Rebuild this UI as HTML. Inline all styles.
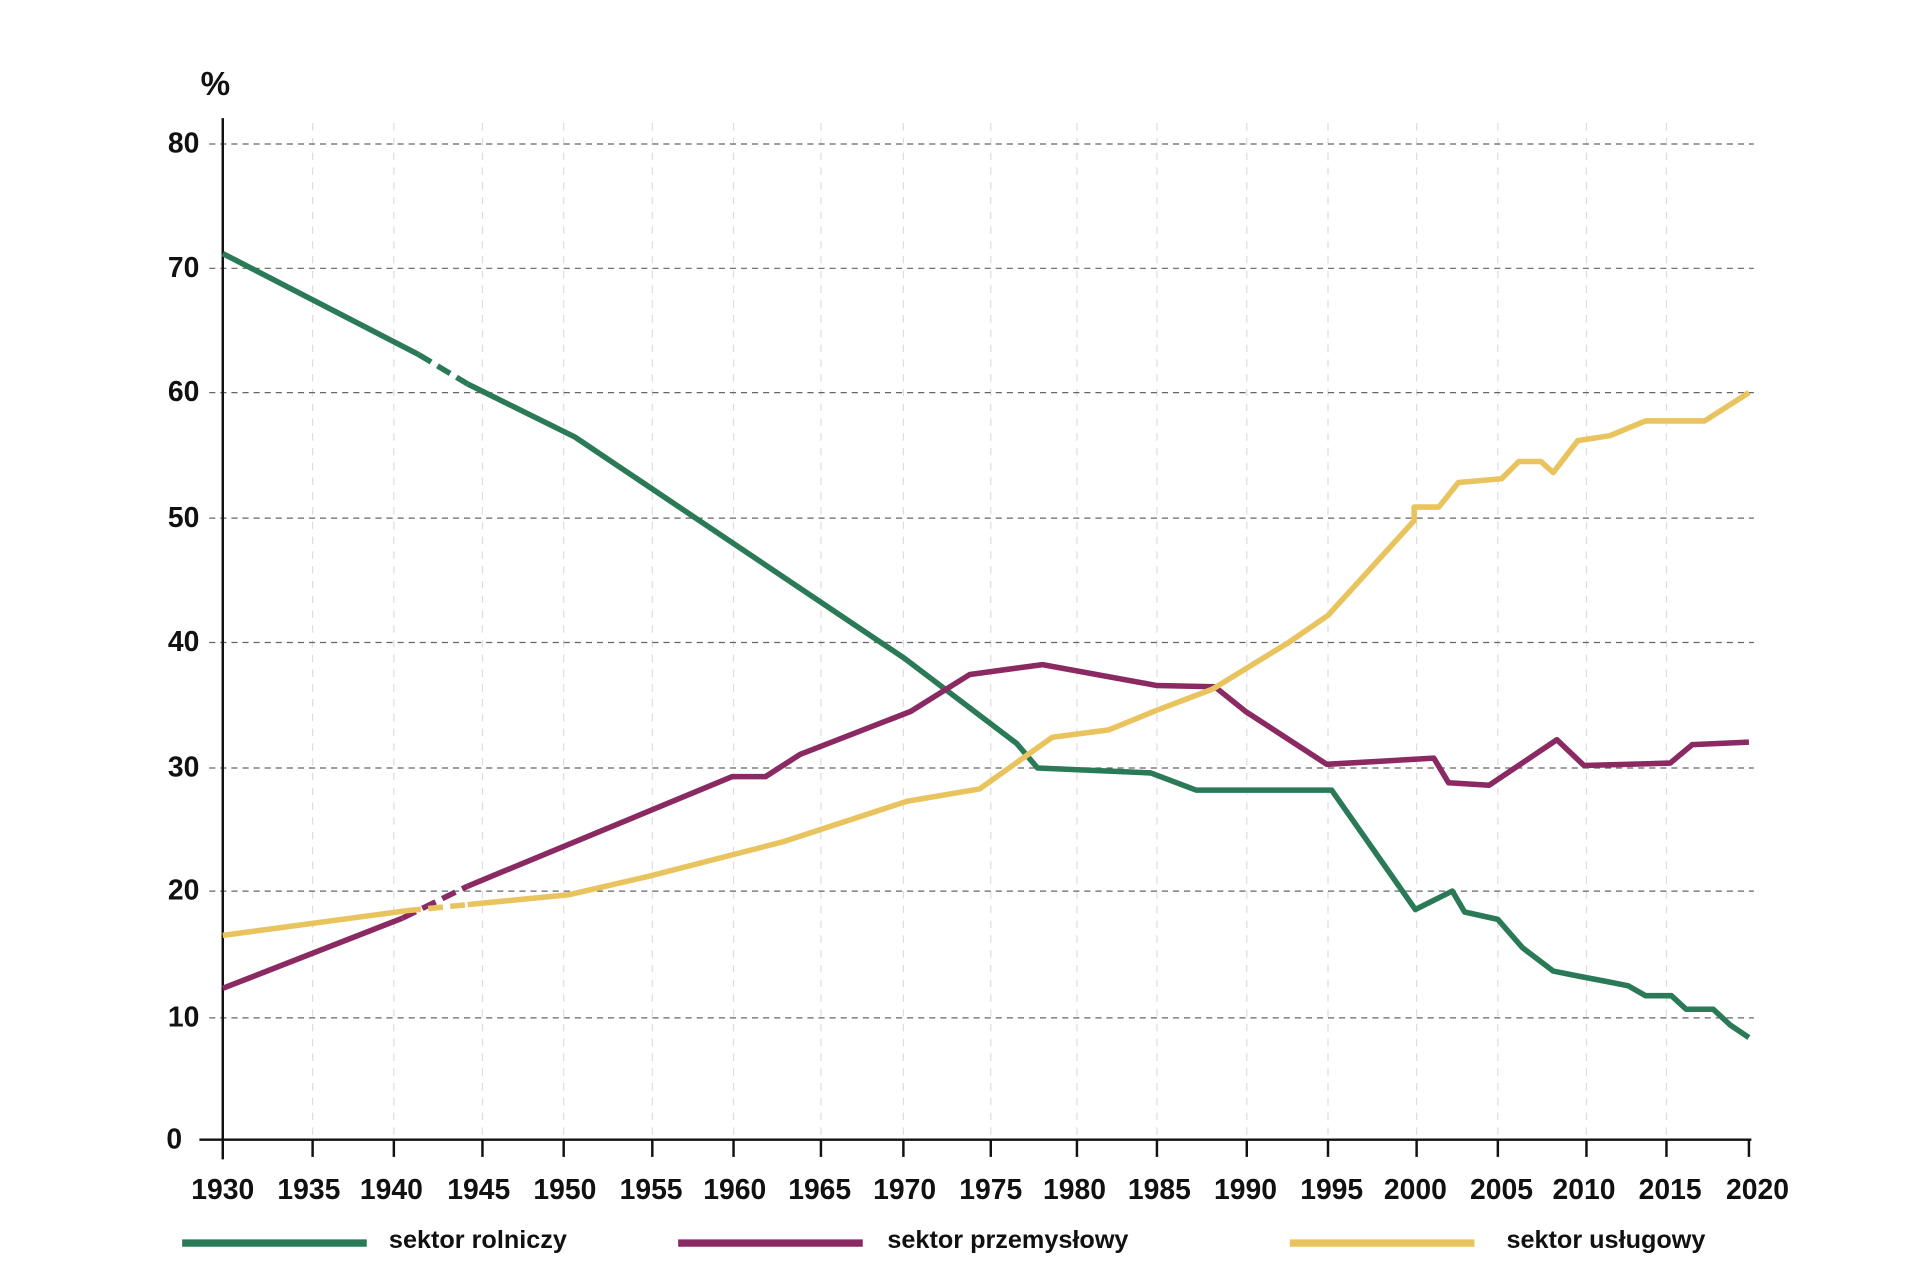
<!DOCTYPE html>
<html><head><meta charset="utf-8"><style>html,body{margin:0;padding:0;background:#fff}svg{display:block}</style></head>
<body>
<svg width="1920" height="1280" viewBox="0 0 1560 1040" preserveAspectRatio="none" xmlns="http://www.w3.org/2000/svg" font-family="'Liberation Sans', sans-serif" font-weight="bold" fill="#111">
<g stroke="#ddd" stroke-width="1" stroke-dasharray="6,6">
<line x1="254" y1="100" x2="254" y2="926"/><line x1="320" y1="100" x2="320" y2="926"/><line x1="392" y1="100" x2="392" y2="926"/><line x1="458" y1="100" x2="458" y2="926"/><line x1="530" y1="100" x2="530" y2="926"/><line x1="596" y1="100" x2="596" y2="926"/><line x1="667" y1="100" x2="667" y2="926"/><line x1="734" y1="100" x2="734" y2="926"/><line x1="805" y1="100" x2="805" y2="926"/><line x1="875" y1="100" x2="875" y2="926"/><line x1="940" y1="100" x2="940" y2="926"/><line x1="1013" y1="100" x2="1013" y2="926"/><line x1="1079" y1="100" x2="1079" y2="926"/><line x1="1151" y1="100" x2="1151" y2="926"/><line x1="1217" y1="100" x2="1217" y2="926"/><line x1="1289" y1="100" x2="1289" y2="926"/><line x1="1354" y1="100" x2="1354" y2="926"/>
</g>
<g stroke="#666" stroke-width="1" stroke-dasharray="5,4">
<line x1="170" y1="117" x2="1425" y2="117"/><line x1="170" y1="218" x2="1425" y2="218"/><line x1="170" y1="319" x2="1425" y2="319"/><line x1="170" y1="421" x2="1425" y2="421"/><line x1="170" y1="522" x2="1425" y2="522"/><line x1="170" y1="624" x2="1425" y2="624"/><line x1="170" y1="724" x2="1425" y2="724"/><line x1="170" y1="827" x2="1425" y2="827"/>
</g>
<g stroke="#111" stroke-width="2">
<line x1="181" y1="96" x2="181" y2="942"/>
<line x1="162" y1="926" x2="1423" y2="926"/>
<line x1="254" y1="926" x2="254" y2="940"/><line x1="320" y1="926" x2="320" y2="940"/><line x1="392" y1="926" x2="392" y2="940"/><line x1="458" y1="926" x2="458" y2="940"/><line x1="530" y1="926" x2="530" y2="940"/><line x1="596" y1="926" x2="596" y2="940"/><line x1="667" y1="926" x2="667" y2="940"/><line x1="734" y1="926" x2="734" y2="940"/><line x1="805" y1="926" x2="805" y2="940"/><line x1="875" y1="926" x2="875" y2="940"/><line x1="940" y1="926" x2="940" y2="940"/><line x1="1013" y1="926" x2="1013" y2="940"/><line x1="1079" y1="926" x2="1079" y2="940"/><line x1="1151" y1="926" x2="1151" y2="940"/><line x1="1217" y1="926" x2="1217" y2="940"/><line x1="1289" y1="926" x2="1289" y2="940"/><line x1="1354" y1="926" x2="1354" y2="940"/><line x1="1421" y1="926" x2="1421" y2="940"/>
</g>
<g font-size="23" text-anchor="end">
<text x="162" y="124">80</text><text x="162" y="225">70</text><text x="162" y="326">60</text><text x="162" y="428">50</text><text x="162" y="529">40</text><text x="162" y="631">30</text><text x="162" y="731">20</text><text x="162" y="834">10</text><text x="148" y="933">0</text>
</g>
<text x="163" y="77" font-size="27">%</text>
<g font-size="23" text-anchor="middle">
<text x="181" y="974">1930</text><text x="251" y="974">1935</text><text x="318" y="974">1940</text><text x="389" y="974">1945</text><text x="459" y="974">1950</text><text x="529" y="974">1955</text><text x="597" y="974">1960</text><text x="666" y="974">1965</text><text x="735" y="974">1970</text><text x="805" y="974">1975</text><text x="873" y="974">1980</text><text x="942" y="974">1985</text><text x="1012" y="974">1990</text><text x="1082" y="974">1995</text><text x="1150" y="974">2000</text><text x="1220" y="974">2005</text><text x="1287" y="974">2010</text><text x="1357" y="974">2015</text><text x="1428" y="974">2020</text>
</g>
<g fill="none" stroke-width="4.5" stroke-linejoin="round">
<g stroke="#2a7a57">
<polyline points="181,206 340,288"/>
<polyline points="340,288 380,312" stroke-dasharray="12,6"/>
<polyline points="380,312 467,355 735,535 826,604 843,624 935,628 972,642 1082,642 1150,739 1180,724 1190,741 1217,747 1237,770 1262,789 1282,793 1308,798 1323,801 1337,809 1358,809 1370,820 1392,820 1406,833 1421,843"/>
</g>
<g stroke="#8b2a62">
<polyline points="181,803 327,746"/>
<polyline points="327,746 380,720" stroke-dasharray="12,6"/>
<polyline points="380,720 595,631 622,631 650,613 740,578 788,548 847,540 940,557 987,558 1012,578 1078,621 1165,616 1177,636 1210,638 1265,601 1287,622 1357,620 1375,605 1421,603"/>
</g>
<g stroke="#e9c45e">
<polyline points="181,760 330,740"/>
<polyline points="330,740 380,735" stroke-dasharray="12,6"/>
<polyline points="380,735 462,727 527,712 636,684 737,651 796,641 855,599 901,593 940,577 985,560 1047,522 1079,500 1149,423 1149,412 1169,412 1185,392 1220,389 1234,375 1252,375 1262,384 1282,358 1308,354 1337,342 1385,342 1421,319"/>
</g>
</g>
<g stroke-width="6">
<line x1="148" y1="1010" x2="298" y2="1010" stroke="#2a7a57"/>
<line x1="551" y1="1010" x2="701" y2="1010" stroke="#8b2a62"/>
<line x1="1048" y1="1010" x2="1198" y2="1010" stroke="#e9c45e"/>
</g>
<g font-size="20.5">
<text x="316" y="1014">sektor rolniczy</text>
<text x="721" y="1014">sektor przemysłowy</text>
<text x="1224" y="1014">sektor usługowy</text>
</g>
</svg>
</body></html>
